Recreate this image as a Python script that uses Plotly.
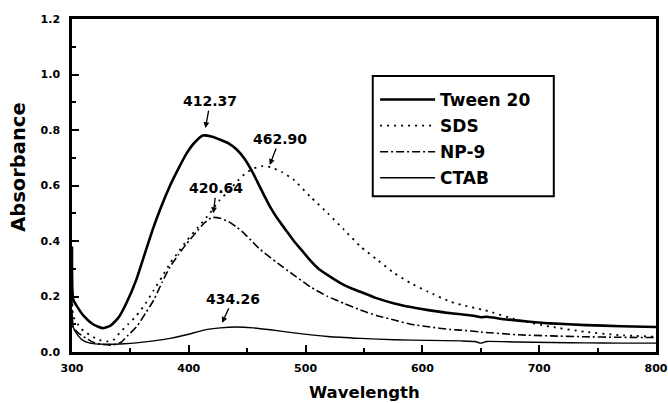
import plotly.graph_objects as go

# ---------------- data ----------------
tween_wl = [300, 301, 305, 310, 318, 326, 333, 340, 347, 355, 362, 369, 376, 384, 391, 398, 405, 412,
            420, 427, 434, 441, 448, 455, 462, 470, 476, 483, 490, 497, 504, 511, 519, 526, 533, 540,
            547, 560, 576, 590, 605, 620, 633, 645, 650, 655, 670, 690, 710, 740, 770, 800]
tween_abs = [0.38, 0.19, 0.16, 0.13, 0.10, 0.086, 0.095, 0.125, 0.18, 0.26, 0.35, 0.44, 0.52, 0.60, 0.66, 0.715, 0.755, 0.78,
             0.776, 0.765, 0.752, 0.73, 0.695, 0.645, 0.585, 0.52, 0.48, 0.44, 0.40, 0.365, 0.33, 0.30, 0.277, 0.258, 0.241, 0.228,
             0.217, 0.195, 0.175, 0.162, 0.151, 0.142, 0.136, 0.130, 0.125, 0.127, 0.118, 0.110, 0.103, 0.097, 0.093, 0.090]

sds_wl = [300, 301, 305, 310, 316, 322, 330, 336, 341, 348, 355, 363, 370, 377, 384, 391, 398, 408, 418, 426,
          435, 442, 449, 456, 463, 470, 480, 490, 504, 519, 533, 547, 562, 576, 590, 605, 624, 633, 653, 682,
          710, 739, 768, 800]
sds_abs = [0.30, 0.13, 0.10, 0.075, 0.06, 0.045, 0.038, 0.045, 0.07, 0.10, 0.13, 0.175, 0.223, 0.27, 0.32, 0.36, 0.40, 0.45, 0.50, 0.545,
           0.584, 0.618, 0.645, 0.662, 0.67, 0.666, 0.648, 0.62, 0.56, 0.50, 0.44, 0.38, 0.33, 0.284, 0.248, 0.217, 0.181, 0.170, 0.151, 0.115,
           0.091, 0.073, 0.061, 0.055]

np9_wl = [300, 301, 305, 310, 318, 326, 335, 342, 348, 356, 363, 370, 377, 384, 391, 398, 406, 413, 420, 427,
          434, 441, 448, 455, 461, 470, 476, 490, 504, 519, 533, 547, 562, 576, 590, 605, 624, 633, 650, 682,
          710, 739, 768, 800]
np9_abs = [0.25, 0.09, 0.07, 0.055, 0.035, 0.027, 0.025, 0.035, 0.06, 0.095, 0.14, 0.187, 0.25, 0.307, 0.35, 0.39, 0.43, 0.464, 0.485, 0.482,
           0.47, 0.45, 0.425, 0.395, 0.37, 0.34, 0.32, 0.277, 0.235, 0.20, 0.175, 0.151, 0.13, 0.115, 0.10, 0.091, 0.081, 0.079, 0.072, 0.062,
           0.058, 0.055, 0.053, 0.052]

ctab_wl = [300, 301, 305, 310, 318, 330, 345, 355, 370, 384, 398, 413, 427, 441, 455, 470, 490, 519, 547, 576,
           605, 633, 645, 650, 655, 680, 710, 740, 770, 800]
ctab_abs = [0.15, 0.09, 0.06, 0.04, 0.03, 0.028, 0.03, 0.033, 0.04, 0.049, 0.062, 0.079, 0.087, 0.09, 0.087, 0.08, 0.069, 0.056, 0.049, 0.044,
            0.042, 0.040, 0.038, 0.032, 0.038, 0.036, 0.034, 0.033, 0.032, 0.032]

series_names = ["Tween 20", "SDS", "NP-9", "CTAB"]

peak_labels = ["412.37", "462.90", "420.64", "434.26"]
peak_x = [414.2, 469.3, 421.0, 428.5]
peak_y = [0.807, 0.674, 0.50, 0.105]

x_ticks = [300, 400, 500, 600, 700, 800]
y_ticks = [0.0, 0.2, 0.4, 0.6, 0.8, 1.0, 1.2]

# ---------------- figure ----------------
FONT = "DejaVu Sans"
fig = go.Figure()

styles = [
    dict(color="black", width=2.6, dash="solid"),
    dict(color="black", width=1.8, dash="2px,5px"),
    dict(color="black", width=1.6, dash="8px,3px,2px,3px"),
    dict(color="black", width=1.4, dash="solid"),
]
xs = [tween_wl, sds_wl, np9_wl, ctab_wl]
ys = [tween_abs, sds_abs, np9_abs, ctab_abs]
for name, x, y, st in zip(series_names, xs, ys, styles):
    fig.add_trace(go.Scatter(x=x, y=y, mode="lines", name=name,
                             line=dict(shape="spline", smoothing=0.5, **st),
                             legendgroup=name))

for lab, px, py, ax, ay in zip(peak_labels, peak_x, peak_y, [5, 10, 3, 11], [-27, -26, -25, -24]):
    fig.add_annotation(x=px, y=py, text=lab, showarrow=True, ax=ax, ay=ay,
                       arrowhead=2, arrowsize=0.9, arrowwidth=1.3, arrowcolor="black",
                       font=dict(family=FONT, size=14, color="black", weight="bold"))

# axis titles
fig.add_annotation(text="Wavelength", xref="paper", yref="paper", x=0.5, y=-0.123,
                   xanchor="center", yanchor="middle", showarrow=False,
                   font=dict(family=FONT, size=16.5, color="black", weight="bold"))
fig.add_annotation(text="Absorbance", xref="paper", yref="paper", x=-0.0908, y=0.556,
                   xanchor="center", yanchor="middle", showarrow=False, textangle=-90,
                   font=dict(family=FONT, size=19.5, color="black", weight="bold"))

# legend frame
fig.add_shape(type="rect", xref="paper", yref="paper", x0=0.515, x1=0.825, y0=0.468, y1=0.829,
              line=dict(color="black", width=2), fillcolor="rgba(0,0,0,0)", layer="above")

axis_common = dict(showline=True, linecolor="black", linewidth=2.5, mirror=True,
                   ticks="inside", tickcolor="black", tickwidth=2, ticklen=7,
                   showgrid=False, zeroline=False, automargin=False,
                   tickfont=dict(family=FONT, size=11, color="black", weight="bold"))

fig.update_xaxes(range=[300, 800], tickvals=x_ticks, ticktext=[str(v) for v in x_ticks],
                 minor=dict(ticks="inside", ticklen=4, tickwidth=1.5, tickcolor="black", dtick=50),
                 ticklabelstandoff=4, **axis_common)
fig.update_yaxes(range=[0, 1.2], tickvals=y_ticks, ticktext=[f"{v:.1f}" for v in y_ticks],
                 minor=dict(ticks="inside", ticklen=4, tickwidth=1.5, tickcolor="black", dtick=0.1),
                 ticklabelstandoff=7, **axis_common)

fig.update_layout(
    width=668, height=403,
    margin=dict(l=72, r=12, t=19, b=51),
    paper_bgcolor="white", plot_bgcolor="white",
    legend=dict(x=0.519, y=0.811, xanchor="left", yanchor="top",
                borderwidth=0, bgcolor="rgba(0,0,0,0)",
                font=dict(family=FONT, size=17, color="black", weight="bold"),
                tracegroupgap=1, itemwidth=55),
)

fig.write_html("out.html")
